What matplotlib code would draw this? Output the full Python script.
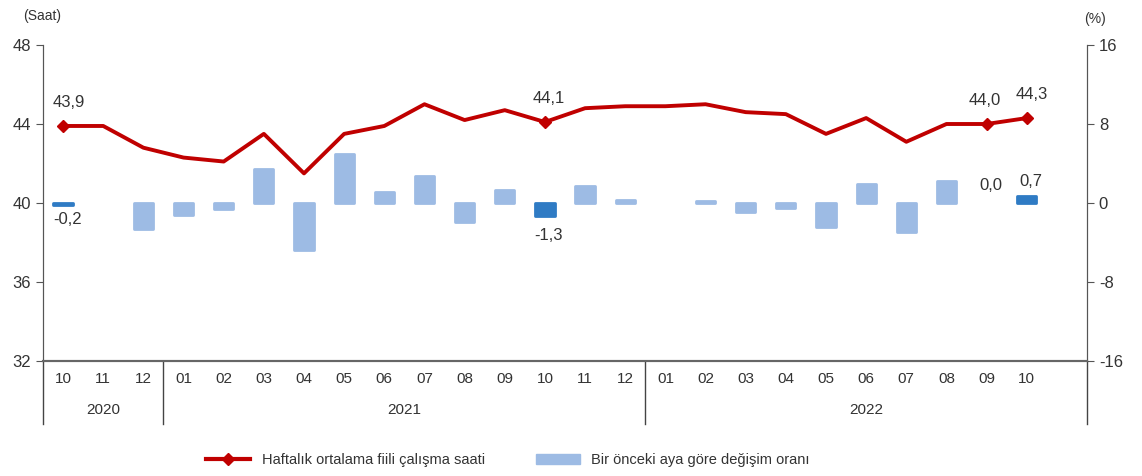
import matplotlib
matplotlib.use("Agg")
import matplotlib.pyplot as plt
from matplotlib.lines import Line2D
from matplotlib.patches import Patch
import matplotlib.transforms as mtransforms

months = ["10", "11", "12", "01", "02", "03", "04", "05", "06", "07", "08", "09",
          "10", "11", "12", "01", "02", "03", "04", "05", "06", "07", "08", "09", "10"]
years = ["2020", "2021", "2022"]
year_bounds = [(-0.5, 2.5), (2.5, 14.5), (14.5, 25.5)]

hours = [43.9, 43.9, 42.8, 42.3, 42.1, 43.5, 41.5, 43.5, 43.9, 45.0, 44.2, 44.7,
         44.1, 44.8, 44.9, 44.9, 45.0, 44.6, 44.5, 43.5, 44.3, 43.1, 44.0, 44.0, 44.3]
change = [-0.2, 0.0, -2.6, -1.2, -0.6, 3.4, -4.8, 5.0, 1.1, 2.7, -1.9, 1.3,
          -1.3, 1.7, 0.3, 0.0, 0.2, -0.9, -0.5, -2.4, 1.9, -2.9, 2.2, 0.0, 0.7]
highlight = [0, 12, 23, 24]
hour_labels = {0: "43,9", 12: "44,1", 23: "44,0", 24: "44,3"}
change_labels = {0: "-0,2", 12: "-1,3", 23: "0,0", 24: "0,7"}

line_color = "#c00000"
bar_light = "#9dbbe4"
bar_dark = "#2f7bc4"
txt = "#333333"

plt.rcParams['font.family'] = ['Liberation Sans', 'DejaVu Sans']

fig = plt.figure(figsize=(11.42, 4.76), dpi=100)
ax = fig.add_axes([43/1142, 1-361/476, (1087-43)/1142, (361-45)/476])
ax2 = ax.twinx()

x = list(range(len(months)))
colors = [bar_dark if i in (0, 12, 24) else bar_light for i in x]
edge_w = [0 if v == 0 else 2.0 for v in change]
ax2.bar(x, change, width=0.48, color=colors, edgecolor=colors, linewidth=edge_w,
        joinstyle='round')
ax2.set_ylim(-16, 16)
ax2.set_yticks([16, 8, 0, -8, -16])
ax2.set_yticklabels(["16", "8", "0", "-8", "-16"])

ax.plot(x, hours, color=line_color, lw=2.8, zorder=3)
ax.plot([x[i] for i in highlight], [hours[i] for i in highlight], linestyle='none',
        marker='D', ms=6, color=line_color, zorder=4)
ax.set_ylim(32, 48)
ax.set_yticks([32, 36, 40, 44, 48])
ax.set_xlim(-0.5, 25.5)
ax.set_zorder(ax2.get_zorder() + 1)
ax.patch.set_visible(False)

for a in (ax, ax2):
    a.spines['top'].set_visible(False)
    a.spines['left'].set_color("#555555")
    a.spines['right'].set_color("#555555")
    a.spines['bottom'].set_color("#666666")
    a.spines['bottom'].set_linewidth(1.5)
    a.tick_params(axis='y', labelsize=12, colors=txt, length=5, color="#555555")

ax.set_xticks(x)
ax.set_xticklabels(months, fontsize=11, color=txt)
ax.tick_params(axis='x', length=0, pad=8)

# data labels
hour_dx = {0: 0.15, 12: 0.1, 23: -0.05, 24: 0.12}
for i, s in hour_labels.items():
    ax.text(x[i] + hour_dx[i], hours[i] + 0.8, s, ha='center', va='bottom', fontsize=12, color=txt)
for i, s in change_labels.items():
    v = change[i]
    dx = 0.1
    if v < 0:
        ax2.text(x[i] + dx, v - (0.7 if i == 0 else 1.2), s, ha='center', va='top', fontsize=12, color=txt)
    else:
        ax2.text(x[i] + dx, 1.4 if i == 24 else 1.0, s, ha='center', va='bottom', fontsize=12, color=txt)

# year group separators
trans = mtransforms.blended_transform_factory(ax.transData, ax.transAxes)
for b in [-0.5, 2.5, 14.5, 25.5]:
    ax.add_line(Line2D([b, b], [0, -0.2], transform=trans, color="#444444", lw=1, clip_on=False))
for (a0, a1), yname in zip(year_bounds, years):
    ax.text((a0 + a1) / 2, -0.155, yname, transform=trans, ha='center', va='center',
            fontsize=11, color=txt)

fig.text(23/1142, 1-16/476, "(Saat)", fontsize=10, color=txt, va='center', ha='left')
fig.text(1095/1142, 1-19/476, "(%)", fontsize=10, color=txt, va='center', ha='center')

handles = [Line2D([0], [0], color=line_color, lw=3, marker='D', ms=6),
           Patch(facecolor=bar_light, edgecolor=bar_light)]
labels = ["Haftalık ortalama fiili çalışma saati", "Bir önceki aya göre değişim oranı"]
leg = fig.legend(handles, labels, loc='center', bbox_to_anchor=(0.445, 1-460/476), ncol=2,
                 frameon=False, handlelength=3.0, columnspacing=3.5,
                 prop={'size': 10.5})
for t in leg.get_texts():
    t.set_color(txt)

fig.savefig("out.png", dpi=100)
